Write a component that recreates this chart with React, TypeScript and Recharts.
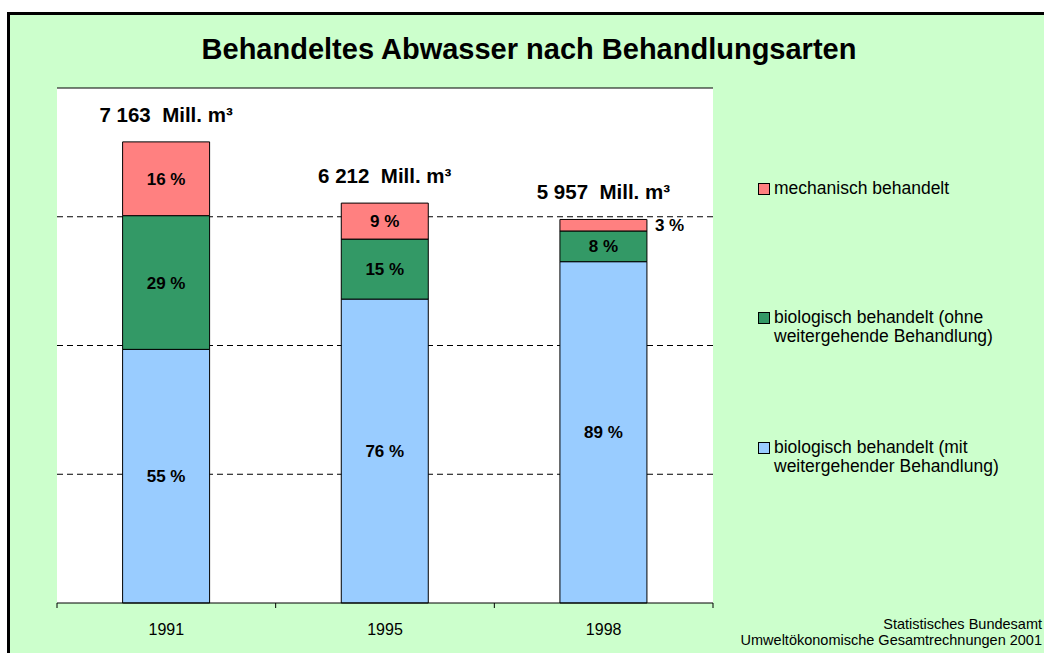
import { BarChart, Bar, XAxis, YAxis, CartesianGrid, ReferenceLine, LabelList, Legend } from 'recharts';

const FONT = 'Arial, "Liberation Sans", sans-serif';

// values in Mill. m³
const years = ['1991', '1995', '1998'];
const mitWeitergehend = [3940, 4721, 5302];
const ohneWeitergehend = [2077, 932, 477];
const mechanisch = [1146, 559, 179];

const pctMit = [55, 76, 89];
const pctOhne = [29, 15, 8];
const pctMech = [16, 9, 3];
const totalLabels = ['7 163', '6 212', '5 957'];
const gridTicks = [2000, 4000, 6000];
const Y_MAX = 8000;

const data = years.map((year, i) => ({
  year,
  mit: mitWeitergehend[i],
  ohne: ohneWeitergehend[i],
  mech: mechanisch[i],
}));

const series = [
  { key: 'mit', name: 'biologisch behandelt (mit\nweitergehender Behandlung)', color: '#99CCFF', pct: pctMit },
  { key: 'ohne', name: 'biologisch behandelt (ohne\nweitergehende Behandlung)', color: '#339966', pct: pctOhne },
  { key: 'mech', name: 'mechanisch behandelt', color: '#FF8080', pct: pctMech },
];

const W = 1044;
const H = 653;
const PLOT_LEFT = 57;
const PLOT_RIGHT = 713;
const PLOT_TOP = 88;
const AXIS_Y = 603;
const X_AXIS_H = 30;
const BAND = (PLOT_RIGHT - PLOT_LEFT) / years.length;

const box = (p: any) => (p.x !== undefined ? p : p.viewBox || {});

const pctLabel = (pct: number[]) => (props: any) => {
  const { x, y, width, height } = box(props);
  const small = height < 16;
  return (
    <text
      x={small ? x + width + 8 : x + width / 2}
      y={y + height / 2 + 6}
      textAnchor={small ? 'start' : 'middle'}
      fontFamily={FONT}
      fontSize={17}
      fontWeight="bold"
      fill="#000"
    >
      {pct[props.index]} %
    </text>
  );
};

const totalLabel = (props: any) => {
  const { x, y, width } = box(props);
  return (
    <text
      x={x + width / 2}
      y={y - 20}
      textAnchor="middle"
      fontFamily={FONT}
      fontSize={20.5}
      fontWeight="bold"
      fill="#000"
      style={{ whiteSpace: 'pre' }}
    >
      {`${totalLabels[props.index]}  Mill. m³`}
    </text>
  );
};

const YearTick = (props: any) => {
  const { x, payload, index } = props;
  return (
    <g>
      <line x1={x - BAND / 2} x2={x - BAND / 2} y1={AXIS_Y} y2={AXIS_Y + 5} stroke="#000" />
      {index === years.length - 1 && (
        <line x1={x + BAND / 2} x2={x + BAND / 2} y1={AXIS_Y} y2={AXIS_Y + 5} stroke="#000" />
      )}
      <text x={x} y={AXIS_Y + 32} textAnchor="middle" fontFamily={FONT} fontSize={16} fill="#000">
        {payload.value}
      </text>
    </g>
  );
};

// the value axis is not labelled in the source; its ticks only feed the grid
const NoTick = () => <g />;

// dashed lines only at the inner ticks, not along the plot edges
const gridRows = (args: any) => {
  const scale = args?.yAxis?.scale;
  if (typeof scale === 'function') return gridTicks.map((v) => scale(v));
  const { top, height } = args.offset;
  return gridTicks.map((v) => top + height * (1 - v / Y_MAX));
};

const renderLegend = () => (
  <div style={{ fontFamily: FONT, fontSize: 17.5, color: '#000', textAlign: 'left' }}>
    {[...series].reverse().map((s) => (
      <div key={s.key} style={{ height: 129.5, display: 'flex', alignItems: 'flex-start' }}>
        <span
          style={{
            width: 10,
            height: 10,
            background: s.color,
            border: '1px solid #000',
            marginTop: 4,
            marginRight: 4,
            flex: 'none',
          }}
        />
        <span style={{ whiteSpace: 'pre-line', lineHeight: '19px' }}>{s.name}</span>
      </div>
    ))}
  </div>
);

export default function App() {
  return (
    <div style={{ position: 'absolute', left: 0, top: 0, width: W, height: H, overflow: 'hidden', background: '#fff' }}>
      {/* green slide frame, cut off at the right and bottom like the source */}
      <div
        style={{
          position: 'absolute',
          left: 7,
          top: 12,
          width: W + 20,
          height: H + 20,
          border: '3px solid #000',
          background: '#CCFFCC',
        }}
      />
      <div
        style={{
          position: 'absolute',
          left: 0,
          width: 1058,
          top: 35,
          textAlign: 'center',
          fontFamily: FONT,
          fontSize: 29,
          lineHeight: '28px',
          fontWeight: 'bold',
          color: '#000',
        }}
      >
        Behandeltes Abwasser nach Behandlungsarten
      </div>

      <div style={{ position: 'absolute', left: 0, top: 0 }}>
        <BarChart
          width={W}
          height={H}
          data={data}
          margin={{ top: PLOT_TOP, left: PLOT_LEFT, right: W - PLOT_RIGHT, bottom: H - AXIS_Y - X_AXIS_H }}
          barCategoryGap="30%"
        >
          <CartesianGrid
            fill="#fff"
            stroke="#000"
            strokeDasharray="6 4"
            vertical={false}
            horizontalCoordinatesGenerator={gridRows}
          />
          <XAxis
            dataKey="year"
            height={X_AXIS_H}
            axisLine={{ stroke: '#000' }}
            tickLine={false}
            tick={<YearTick />}
            interval={0}
          />
          <YAxis
            domain={[0, Y_MAX]}
            ticks={gridTicks}
            width={0}
            tick={<NoTick />}
            tickLine={false}
            axisLine={{ stroke: '#000' }}
          />
          <YAxis
            yAxisId="frame"
            orientation="right"
            domain={[0, Y_MAX]}
            width={0}
            tick={false}
            tickLine={false}
            axisLine={{ stroke: '#808080' }}
          />
          <ReferenceLine y={Y_MAX} stroke="#000" />
          <Legend
            layout="horizontal"
            align="center"
            verticalAlign="middle"
            content={renderLegend}
            wrapperStyle={{ position: 'absolute', left: 758, top: 178.5, width: 280 }}
          />
          {series.map((s) => (
            <Bar
              key={s.key}
              dataKey={s.key}
              name={s.name}
              stackId="a"
              fill={s.color}
              stroke="#000"
              strokeWidth={1}
              isAnimationActive={false}
            >
              <LabelList dataKey={s.key} content={pctLabel(s.pct)} />
              {s.key === 'mech' && <LabelList dataKey={s.key} content={totalLabel} />}
            </Bar>
          ))}
        </BarChart>
      </div>

      <div
        style={{
          position: 'absolute',
          right: 2,
          top: 616,
          textAlign: 'right',
          fontFamily: FONT,
          fontSize: 14.5,
          lineHeight: '16px',
          color: '#000',
        }}
      >
        Statistisches Bundesamt
        <br />
        Umweltökonomische Gesamtrechnungen 2001
      </div>
    </div>
  );
}
